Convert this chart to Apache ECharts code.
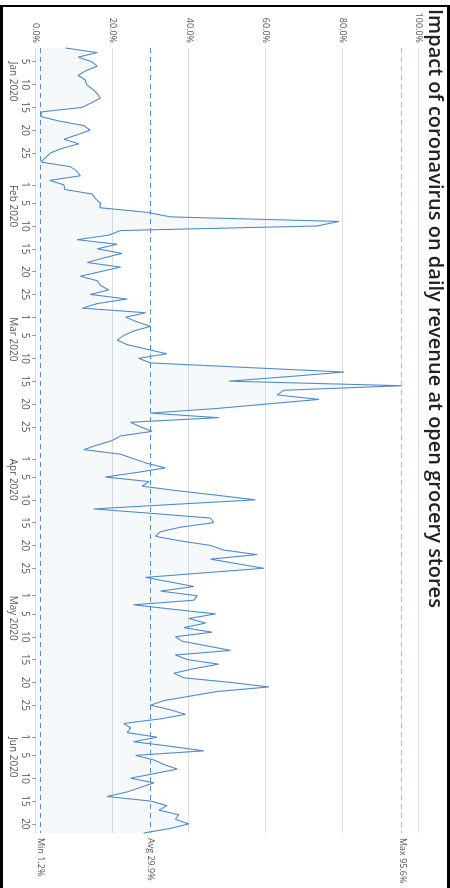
<!DOCTYPE html>
<html>
<head>
<meta charset="utf-8">
<script src="https://cdn.jsdelivr.net/npm/echarts@6/dist/echarts.min.js"></script>
<style>
  html, body { margin: 0; padding: 0; background: #fff; }
  body { width: 450px; height: 888px; position: relative; overflow: hidden; }
  .frame {
    position: absolute; left: 0; top: 5px; width: 450px; height: 883px;
    box-sizing: border-box; pointer-events: none;
    border-top: 2px solid #000; border-left: 3px solid #000; border-right: 3px solid #000;
  }
  /* chart is drawn landscape and turned a quarter clockwise */
  #chart {
    position: absolute; left: 450px; top: 0; width: 888px; height: 450px;
    transform-origin: 0 0; transform: rotate(90deg);
  }
</style>
</head>
<body>
<div id="chart"></div>
<div class="frame"></div>
<script>
// first day of the series, one value per day after it
const startYear = 2020, startMonth = 0, startDay = 2;

// share of daily revenue lost (%), 2 Jan .. 22 Jun 2020
const revenue = [
  7.7, 16.0, 11.0, 14.5, 16.0, 13.0, 11.0, 12.9, 13.2, 14.7,
  16.0, 16.8, 14.5, 12.1, 1.5, 1.2, 6.0, 12.5, 14.1, 10.8,
  7.3, 11.2, 6.8, 3.8, 2.5, 1.3, 9.0, 10.7, 11.6, 3.6,
  7.3, 7.5, 14.7, 15.5, 16.8, 16.7, 29.0, 35.1, 79.1, 73.4,
  22.1, 19.0, 10.7, 21.2, 16.0, 22.5, 17.7, 13.4, 22.1, 16.8,
  11.6, 16.0, 16.8, 19.0, 14.2, 23.8, 16.0, 12.1, 28.6, 23.4,
  26.4, 29.9, 25.5, 22.9, 21.2, 23.8, 29.0, 34.2, 26.8, 29.9,
  55.0, 80.4, 66.0, 50.4, 95.6, 64.7, 63.0, 73.9, 60.4, 47.0,
  29.9, 47.7, 24.7, 27.3, 30.3, 22.1, 19.9, 16.0, 12.5, 22.1,
  25.5, 29.0, 33.8, 26.4, 18.1, 29.5, 27.7, 36.9, 47.3, 57.3,
  36.0, 15.1, 30.8, 45.6, 46.4, 37.7, 32.5, 31.2, 37.7, 45.6,
  49.0, 57.7, 45.6, 52.5, 59.5, 43.8, 28.6, 35.1, 41.2, 32.5,
  42.1, 41.2, 25.5, 36.0, 46.9, 39.9, 44.3, 38.6, 46.0, 36.4,
  38.2, 44.7, 50.8, 36.4, 39.5, 47.7, 41.2, 36.0, 38.6, 50.8,
  60.8, 47.3, 40.3, 33.4, 29.9, 35.1, 39.0, 32.5, 22.9, 24.7,
  23.8, 31.6, 25.5, 35.1, 43.8, 26.0, 30.8, 33.4, 36.9, 30.8,
  24.7, 30.8, 27.3, 23.8, 18.6, 29.9, 34.2, 32.1, 37.3, 36.4,
  39.9, 35.1, 28.1
];

const dayTicks = [1, 5, 10, 15, 20, 25];
const monthNames = ['Jan', 'Feb', 'Mar', 'Apr', 'May', 'Jun', 'Jul'];
const yMin = 0, yMax = 100, yStep = 20;

let days = revenue.map((v, i) => {
  let d = new Date(startYear, startMonth, startDay + i);
  return { y: d.getFullYear(), m: d.getMonth(), d: d.getDate() };
});
let cats = days.map(o => o.y + '-' + (o.m + 1) + '-' + o.d);
let firstTick = days.findIndex(o => dayTicks.includes(o.d));

const isDayTick = idx => dayTicks.includes(days[idx].d);
const isMonthTick = idx => idx === firstTick || days[idx].d === 1;

let chart = echarts.init(document.getElementById('chart'));

let option = {
  animation: false,
  textStyle: { fontFamily: 'Open Sans, Liberation Sans, sans-serif' },
  title: {
    text: 'Impact of coronavirus on daily revenue at open grocery stores',
    left: 4,
    top: 0,
    textStyle: { fontFamily: 'Open Sans', fontSize: 20, fontWeight: 600, color: '#222' }
  },
  grid: { left: 48, right: 55, top: 31, bottom: 36 },
  xAxis: [
    {
      type: 'category',
      data: cats,
      boundaryGap: false,
      axisLine: { show: false },
      axisTick: { interval: isDayTick, length: 4, lineStyle: { color: '#999' } },
      axisLabel: {
        interval: isDayTick,
        formatter: (v, idx) => String(days[idx].d),
        color: '#555', fontSize: 10, margin: 6
      },
      splitLine: { show: false }
    },
    {
      type: 'category',
      data: cats,
      boundaryGap: false,
      position: 'bottom',
      axisLine: { show: false },
      axisTick: { show: false },
      axisLabel: {
        interval: isMonthTick,
        formatter: (v, idx) => monthNames[days[idx].m] + ' ' + days[idx].y,
        align: 'left',
        color: '#555', fontSize: 10, margin: 18
      }
    }
  ],
  yAxis: {
    type: 'value',
    min: yMin, max: yMax, interval: yStep,
    axisLine: { show: false },
    axisTick: { show: false },
    axisLabel: { formatter: v => v.toFixed(1) + '%', color: '#555', fontSize: 9, margin: 5 },
    splitLine: { lineStyle: { color: '#ddd', width: 1 } }
  },
  series: [{
    type: 'line',
    data: revenue,
    xAxisIndex: 0,
    symbol: 'none',
    lineStyle: { color: '#4f8cc9', width: 1.1 },
    itemStyle: { color: '#4f8cc9' },
    areaStyle: { color: 'rgba(79,140,201,0.07)' },
    markLine: {
      silent: true,
      symbol: 'none',
      precision: 1,
      label: {
        position: 'end',
        color: '#555',
        fontSize: 9,
        formatter: p => p.name + ' ' + Number(p.value).toFixed(1) + '%'
      },
      lineStyle: { type: [5, 4], width: 1, color: '#4f8fd0' },
      data: [
        { type: 'max', name: 'Max', lineStyle: { color: '#8fbde6' } },
        { type: 'average', name: 'Avg' },
        { type: 'min', name: 'Min' }
      ]
    }
  }]
};

chart.setOption(option);
</script>
</body>
</html>
